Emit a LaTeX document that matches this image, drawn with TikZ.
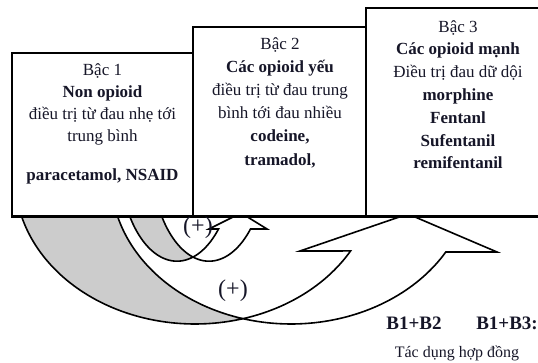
\documentclass[tikz,border=0pt]{standalone}
\usepackage{fontspec}
\setmainfont{Liberation Serif}
\definecolor{ink}{RGB}{22,22,40}
\definecolor{shade}{RGB}{204,204,204}
\begin{document}
\begin{tikzpicture}[x=1pt,y=-1pt,
  box/.style={draw=black, line width=2.2pt, fill=white},
  backface/.style={draw=black, line width=1.6pt, fill=shade, line join=round},
  frontface/.style={draw=black, line width=1.6pt, fill=white, line join=miter},
  boxtext/.style={font=\fontsize{17}{22.8}\selectfont, text=ink, align=center, inner sep=0pt, anchor=north},
  plus/.style={font=\fontsize{24}{26}\selectfont, text=ink, inner sep=0pt},
  note/.style={font=\fontsize{16}{20}\selectfont, text=ink, inner sep=0pt},
  combo/.style={font=\fontsize{19}{22}\selectfont\bfseries, text=ink, inner sep=0pt},
]
\useasboundingbox (0,0) rectangle (538,363);

% large curved arrow (step 1 -> step 3): shaded back face
\path[backface]
  plot[domain=74.5:164.2, samples=60] ({195+180*cos(\x)}, {177+147*sin(\x)})
  -- plot[domain=-164.2:-105.5, samples=40] ({291+180*cos(-\x)}, {177+147*sin(-\x)})
  -- cycle;
% large curved arrow: front face with head
\path[frontface]
  plot[domain=-74.5:-30.2, samples=40] ({195+180*cos(-\x)}, {177+147*sin(-\x)})
  -- (300,251) -- (408,214) -- (497,252)
  -- plot[domain=30.7:105.5, samples=50] ({291+180*cos(\x)}, {177+147*sin(\x)})
  -- cycle;

% small curved arrow (step 1 -> step 2): shaded back face
\path[backface]
  plot[domain=74:144.1, samples=40] ({177+58*cos(\x)}, {154.5+106.7*sin(\x)})
  -- plot[domain=-144.1:-106, samples=30] ({209+58*cos(-\x)}, {154.5+106.7*sin(-\x)})
  -- cycle;
% small curved arrow: front face with head
\path[frontface]
  plot[domain=-74:-44.3, samples=30] ({177+58*cos(-\x)}, {154.5+106.7*sin(-\x)})
  -- (209,229) -- (241,213) -- (267,229)
  -- plot[domain=44.3:106, samples=40] ({209+58*cos(\x)}, {154.5+106.7*sin(\x)})
  -- cycle;

% the three steps, drawn over the arrow tails
\draw[box] (12,53) rectangle (193,216.5);
\draw[box] (193,27) rectangle (366,216.5);
\draw[box] (366,8) rectangle (548,216.5);

\node[boxtext, font=\fontsize{17}{22}\selectfont] (step1) at (102.5,63) {Bậc 1\\ \textbf{Non opioid}\\ điều trị từ đau nhẹ tới\\ trung bình\\[17pt] \textbf{paracetamol, NSAID}};
\node[boxtext, font=\fontsize{17}{23.2}\selectfont] (step2) at (280,37) {Bậc 2\\ \textbf{Các opioid yếu}\\ điều trị từ đau trung\\ bình tới đau nhiều\\ \textbf{codeine,}\\ \textbf{tramadol,}};
\node[boxtext] (step3) at (458,20) {Bậc 3\\ \textbf{Các opioid mạnh}\\ Điều trị đau dữ dội\\ \textbf{morphine}\\ \textbf{Fentanl}\\ \textbf{Sufentanil}\\ \textbf{remifentanil}};

\node[plus] (plusA) at (198,228) {(+)};
\node[plus] (plusB) at (233,291) {(+)};

\node[combo] (combA) at (414,323) {B1+B2};
\node[combo] (combB) at (507,323) {B1+B3:};
\node[note] (effect) at (457,353) {Tác dụng hợp đồng};
\end{tikzpicture}
\end{document}
